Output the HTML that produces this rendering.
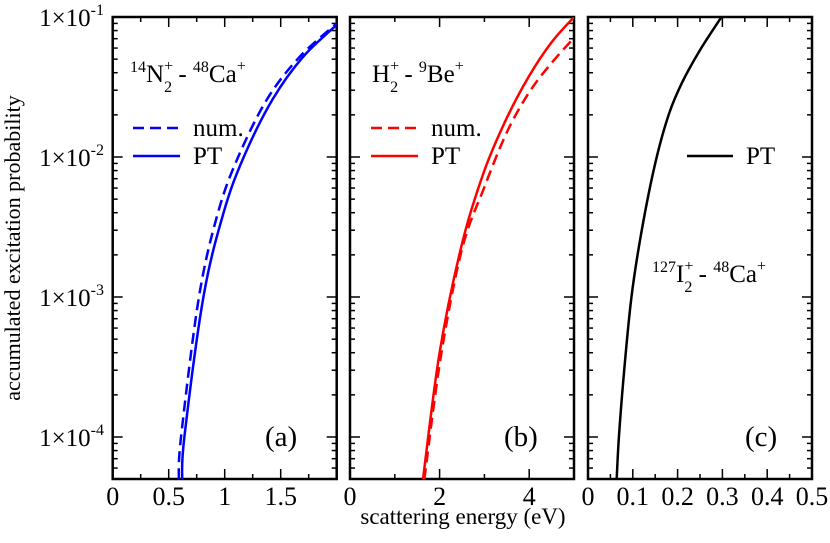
<!DOCTYPE html>
<html><head><meta charset="utf-8"><style>
body{margin:0;background:#fff}
svg text{font-family:"Liberation Serif",serif;fill:#000}
</style></head><body>
<svg id="chart" width="830" height="538" xmlns="http://www.w3.org/2000/svg">
<defs>
<clipPath id="ca"><rect x="112.7" y="17" width="224" height="462"/></clipPath>
<clipPath id="cb"><rect x="350" y="17" width="224" height="462"/></clipPath>
<clipPath id="cc"><rect x="588" y="17" width="224" height="462"/></clipPath>
</defs>
<g id="g"></g>
<text x="20" y="248" font-size="22" text-anchor="middle" transform="rotate(-90 20 248)">accumulated excitation probability</text>
<text x="463" y="524" font-size="23" text-anchor="middle">scattering energy (eV)</text>
<text x="130" y="82" font-size="25"><tspan font-size="16" dy="-10">14</tspan><tspan dy="10">N</tspan><tspan font-size="16" dy="-11">+</tspan><tspan font-size="16" dx="-9" dy="21">2</tspan><tspan dy="-10"> - </tspan><tspan font-size="16" dy="-10">48</tspan><tspan dy="10">Ca</tspan><tspan font-size="16" dy="-11">+</tspan></text>
<text x="372" y="82" font-size="25"><tspan>H</tspan><tspan font-size="16" dy="-11">+</tspan><tspan font-size="16" dx="-9" dy="21">2</tspan><tspan dy="-10"> - </tspan><tspan font-size="16" dy="-10">9</tspan><tspan dy="10">Be</tspan><tspan font-size="16" dy="-11">+</tspan></text>
<text x="652" y="282" font-size="25"><tspan font-size="16" dy="-10">127</tspan><tspan dy="10">I</tspan><tspan font-size="16" dy="-11">+</tspan><tspan font-size="16" dx="-9" dy="21">2</tspan><tspan dy="-10"> - </tspan><tspan font-size="16" dy="-10">48</tspan><tspan dy="10">Ca</tspan><tspan font-size="16" dy="-11">+</tspan></text>
<g>
<line x1="133" y1="128" x2="180" y2="128" stroke="#0000ff" stroke-width="2.5" stroke-dasharray="11,6"/>
<text x="193" y="136" font-size="25">num.</text>
<line x1="133" y1="156" x2="180" y2="156" stroke="#0000ff" stroke-width="2.5"/>
<text x="193" y="164" font-size="25">PT</text>
</g>
<g>
<line x1="371" y1="128" x2="418" y2="128" stroke="#ff0000" stroke-width="2.5" stroke-dasharray="11,6"/>
<text x="431" y="136" font-size="25">num.</text>
<line x1="371" y1="156" x2="418" y2="156" stroke="#ff0000" stroke-width="2.5"/>
<text x="431" y="164" font-size="25">PT</text>
</g>
<g>
<line x1="687" y1="156" x2="733" y2="156" stroke="#000" stroke-width="2.5"/>
<text x="746" y="164" font-size="25">PT</text>
</g>
<text x="265" y="446" font-size="29">(a)</text>
<text x="504" y="446" font-size="29">(b)</text>
<text x="745" y="446" font-size="29">(c)</text>
</svg>
<script>
const aNumX=[0.59,0.61,0.77,0.94,1.12,1.38,1.67,2.0];
const aNumY=[5e-5,1e-4,1e-3,4e-3,1e-2,2.6e-2,5.2e-2,9e-2];
const aPtX=[0.62,0.64,0.81,0.99,1.17,1.43,1.7,2.0];
const aPtY=[5e-5,1e-4,1e-3,4e-3,1e-2,2.6e-2,5.2e-2,8.8e-2];
const bNumX=[1.66,2.03,2.5,3.0,3.5,4.0,4.5,5.0];
const bNumY=[5e-5,3.8e-4,2.2e-3,6.1e-3,1.5e-2,2.9e-2,4.7e-2,7.1e-2];
const bPtX=[1.63,2.0,2.5,3.0,3.5,4.0,4.5,5.0];
const bPtY=[5e-5,4e-4,2.4e-3,8e-3,1.9e-2,3.8e-2,6.6e-2,1e-1];
const cPtX=[0.064,0.069,0.08,0.097,0.12,0.15,0.18,0.21,0.25,0.298];
const cPtY=[5e-5,1e-4,2.8e-4,1e-3,3e-3,9e-3,2e-2,3.4e-2,5.8e-2,1e-1];
const yTickExp=[-1,-2,-3,-4];
const aTicks=["0","0.5","1","1.5"], aTickVals=[0,0.5,1,1.5];
const bTicks=["0","2","4"], bTickVals=[0,2,4];
const cTicks=["0","0.1","0.2","0.3","0.4","0.5"], cTickVals=[0,0.1,0.2,0.3,0.4,0.5];

const NS="http://www.w3.org/2000/svg", G=document.getElementById('g');
const plotTop=17, plotBot=479, dec=140;
function Y(v){return plotTop+(-1-Math.log10(v))*dec;}
function mk(t,a){const e=document.createElementNS(NS,t);for(const k in a)e.setAttribute(k,a[k]);G.appendChild(e);return e;}
const panels=[
 {id:'a',x0:112.7,max:2,minor:0.25,tv:aTickVals,tl:aTicks,clip:'ca'},
 {id:'b',x0:350,max:5,minor:1,tv:bTickVals,tl:bTicks,clip:'cb'},
 {id:'c',x0:588,max:0.5,minor:0.05,tv:cTickVals,tl:cTicks,clip:'cc'}];
panels.forEach(p=>{
 p.X=v=>p.x0+v/p.max*224;
 const x1=p.x0+224;
 for(let i=0;i*p.minor<=p.max+1e-9;i++){
  const v=i*p.minor, x=p.X(v);
  const L=(i%2===0)?10:5;
  const t1=mk('line',{x1:x,y1:plotBot,x2:x,y2:plotBot-L,stroke:'#000','stroke-width':1.5});
  
  
  mk('line',{x1:x,y1:plotTop,x2:x,y2:plotTop+L,stroke:'#000','stroke-width':1.5});
 }
 p.tv.forEach((v,i)=>{
  const t=mk('text',{x:p.X(v),y:505,'font-size':26,'text-anchor':'middle'});
  t.textContent=p.tl[i];
  
  
 });
 for(let e=-1;e>=-5;e--){for(let m=1;m<=9;m++){
  const v=m*Math.pow(10,e), y=Y(v); if(y<plotTop-0.5||y>plotBot)continue;
  const L=m===1?10:5;
  mk('line',{x1:p.x0,y1:y,x2:p.x0+L,y2:y,stroke:'#000','stroke-width':1.5});
  mk('line',{x1:x1,y1:y,x2:x1-L,y2:y,stroke:'#000','stroke-width':1.5});
 }}
 const r=mk('rect',{x:p.x0,y:plotTop,width:224,height:plotBot-plotTop,fill:'none',stroke:'#000','stroke-width':2.5});
 
 
});
yTickExp.forEach(e=>{
 const t=mk('text',{x:104,y:Y(Math.pow(10,e))+9,'font-size':25,'text-anchor':'end'});
 t.innerHTML='1×10<tspan font-size="16" dy="-11">'+e+'</tspan>';
 
 
});
function series(p,xs,ys,color,dash,name){
 const pts=xs.map((x,i)=>[p.X(x),Y(ys[i])]);
 let d='M'+pts[0][0].toFixed(2)+','+pts[0][1].toFixed(2);
 for(let i=0;i<pts.length-1;i++){
  const p0=pts[i-1]||pts[i],p1=pts[i],p2=pts[i+1],p3=pts[i+2]||p2;
  const c1=[p1[0]+(p2[0]-p0[0])/6,p1[1]+(p2[1]-p0[1])/6];
  const c2=[p2[0]-(p3[0]-p1[0])/6,p2[1]-(p3[1]-p1[1])/6];
  d+=' C'+c1.map(v=>v.toFixed(2)).join(',')+' '+c2.map(v=>v.toFixed(2)).join(',')+' '+p2.map(v=>v.toFixed(2)).join(',');
 }
 const a={d:d,fill:'none',stroke:color,'stroke-width':2.5,'stroke-linejoin':'round','clip-path':'url(#'+p.clip+')'};
 if(dash)a['stroke-dasharray']='11,6';
 const e=mk('path',a);
 
 
}
series(panels[0],aNumX,aNumY,'#0000ff',true,'line-a-num');
series(panels[0],aPtX,aPtY,'#0000ff',false,'line-a-pt');
series(panels[1],bNumX,bNumY,'#ff0000',true,'line-b-num');
series(panels[1],bPtX,bPtY,'#ff0000',false,'line-b-pt');
series(panels[2],cPtX,cPtY,'#000000',false,'line-c-pt');
</script>
</body></html>
